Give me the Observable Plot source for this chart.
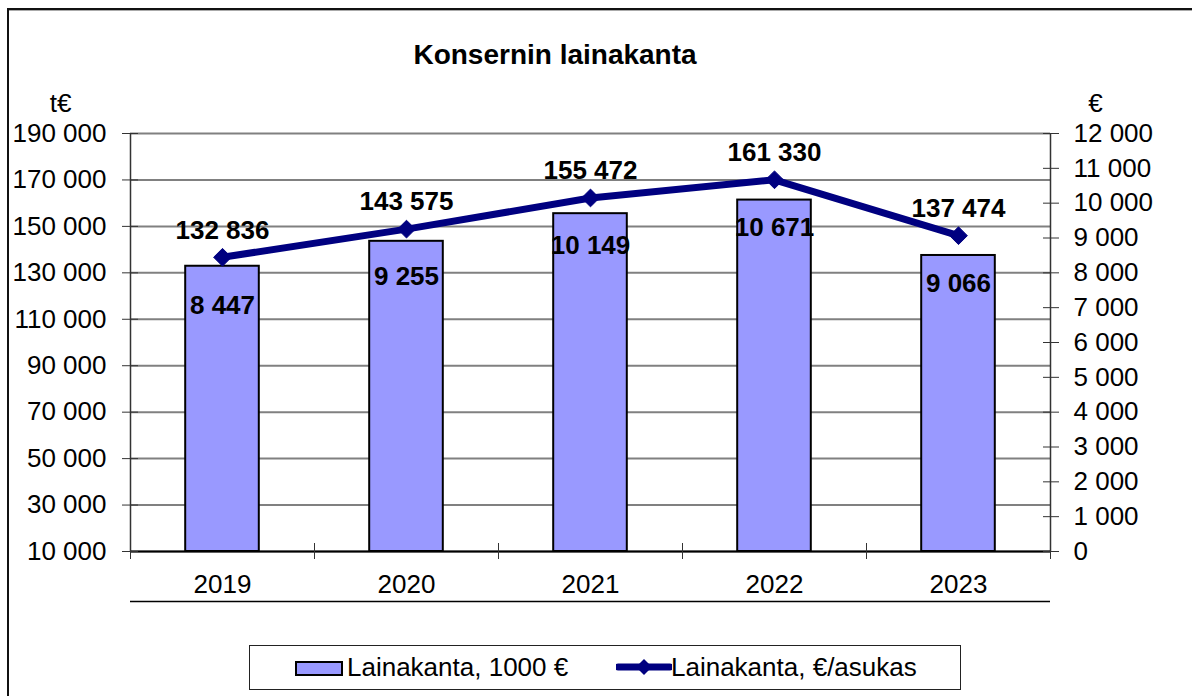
<!DOCTYPE html>
<html>
<head>
<meta charset="utf-8">
<script src="https://cdn.jsdelivr.net/npm/d3@7"></script>
<script src="https://cdn.jsdelivr.net/npm/@observablehq/plot@0.6"></script>
<style>
  html, body { margin: 0; padding: 0; background: #fff; }
  body { font-family: "Liberation Sans", Arial, sans-serif; color: #000; }
  #wrap { position: relative; width: 1192px; height: 696px; overflow: hidden; }
  #frame { position: absolute; left: 7px; top: 8px; width: 1200px; height: 700px; border-left: 2px solid #111; border-top: 2px solid #111; box-shadow: inset 0 1px 0 #aaa; }
  #title { position: absolute; left: 0; top: 41px; width: 1110px; text-align: center; font-size: 28px; line-height: 28px; font-weight: bold; }
  #chart { position: absolute; left: 0; top: 0; }
  #legend { position: absolute; left: 249px; top: 645px; width: 712px; height: 45px; border: 1.5px solid #222; box-sizing: border-box; background: #fff; }
  .lg-text { position: absolute; top: 0; line-height: 42px; font-size: 26px; white-space: nowrap; }
  .lg-sw { position: absolute; }
</style>
</head>
<body>
<div id="wrap">
  <div id="frame"></div>
  <div id="chart"></div>
  <div id="title"></div>
  <div id="legend"></div>
</div>
<script>
const title = "Konsernin lainakanta";
const years = ["2019", "2020", "2021", "2022", "2023"];
const loanStock = [132836, 143575, 155472, 161330, 137474];   // t€ (left axis)
const perResident = [8447, 9255, 10149, 10671, 9066];         // €/asukas (right axis)
const seriesNames = ["Lainakanta, 1000 €", "Lainakanta, €/asukas"];
const leftTicks = [10000, 30000, 50000, 70000, 90000, 110000, 130000, 150000, 170000, 190000];
const rightTicks = [0, 1000, 2000, 3000, 4000, 5000, 6000, 7000, 8000, 9000, 10000, 11000, 12000];
const leftUnit = "t€";
const rightUnit = "€";

const barColor = "#9999ff";
const lineColor = "#000080";

const fmt = v => d3.format(",")(v).replace(/,/g, " ");
// right axis 0..12000 maps onto left axis 10000..190000
const toLeft = v => 10000 + v * 15;
const fromLeft = v => Math.round((v - 10000) / 15);

const rows = years.map((year, i) => ({ i, year, loan: loanStock[i], per: perResident[i] }));
const boundaries = d3.range(years.length + 1).map(k => k - 0.5);

document.getElementById("title").textContent = title;

const chart = Plot.plot({
  width: 1192,
  height: 615,
  marginTop: 133,
  marginBottom: 64,
  marginLeft: 130,
  marginRight: 142,
  x: { domain: [-0.5, years.length - 0.5], axis: null, label: null },
  y: { domain: [leftTicks[0], leftTicks[leftTicks.length - 1]], axis: null, label: null },
  style: { fontFamily: "'Liberation Sans', Arial, sans-serif", fontSize: "26px", color: "#000", background: "transparent", overflow: "visible" },
  marks: [
    Plot.gridY(leftTicks, { stroke: "#808080", strokeOpacity: 1, strokeWidth: 2 }),
    Plot.rectY(rows, { x1: d => d.i - 0.2, x2: d => d.i + 0.2, y1: leftTicks[0], y2: "loan", fill: barColor, stroke: "#000", strokeWidth: 2 }),
    Plot.ruleX([-0.5, years.length - 0.5], { stroke: "#333", strokeWidth: 1.5 }),
    Plot.ruleY([leftTicks[0]], { stroke: "#000", strokeWidth: 2 }),
    Plot.ruleY([leftTicks[0]], { dy: 50, stroke: "#000", strokeWidth: 1.5 }),
    Plot.axisY(leftTicks, { anchor: "left", label: null, tickSize: 16, dx: 8, tickPadding: 16, tickFormat: fmt, fontSize: 26, stroke: "#333" }),
    Plot.axisY(rightTicks.map(toLeft), { anchor: "right", label: null, tickSize: 16, dx: -8, tickPadding: 15, tickFormat: d => fmt(fromLeft(d)), fontSize: 26, stroke: "#333" }),
    Plot.axisX(boundaries, { anchor: "bottom", label: null, tickSize: 16, dy: -8, tickFormat: () => "", stroke: "#333" }),
    Plot.axisX(rows.map(d => d.i), { anchor: "bottom", label: null, tickSize: 0, tickPadding: 23, tickFormat: i => years[i], fontSize: 26 }),
    Plot.line(rows, { x: "i", y: d => toLeft(d.per), stroke: lineColor, strokeWidth: 7 }),
    Plot.dot(rows, { x: "i", y: d => toLeft(d.per), symbol: "diamond2", r: 8, fill: lineColor, stroke: lineColor, strokeWidth: 1 }),
    Plot.text(rows, { x: "i", y: d => toLeft(d.per), text: d => fmt(d.loan), dy: -27, fontWeight: "bold", fontSize: 26 }),
    Plot.text(rows, { x: "i", y: d => toLeft(d.per), text: d => fmt(d.per), dy: 48, fontWeight: "bold", fontSize: 26 }),
    Plot.text([leftUnit], { frameAnchor: "top-left", textAnchor: "middle", text: d => d, dx: -70, dy: -40, fontSize: 26 }),
    Plot.text([rightUnit], { frameAnchor: "top-right", textAnchor: "middle", text: d => d, dx: 45, dy: -40, fontSize: 26 })
  ]
});
document.getElementById("chart").appendChild(chart);

// Legend
const legend = document.getElementById("legend");
const sw1 = document.createElement("div");
sw1.className = "lg-sw";
Object.assign(sw1.style, { left: "45px", top: "15px", width: "48px", height: "15px", background: barColor, border: "2px solid #000", boxSizing: "border-box" });
legend.appendChild(sw1);
const t1 = document.createElement("div");
t1.className = "lg-text"; t1.style.left = "97px"; t1.textContent = seriesNames[0];
legend.appendChild(t1);

const sw2 = document.createElementNS("http://www.w3.org/2000/svg", "svg");
sw2.setAttribute("width", "56"); sw2.setAttribute("height", "22");
sw2.setAttribute("class", "lg-sw");
sw2.style.left = "366px"; sw2.style.top = "10px";
sw2.innerHTML = `<line x1="2" y1="11" x2="54" y2="11" stroke="${lineColor}" stroke-width="7" stroke-linecap="round"/>` +
  `<path d="M28,3 L36,11 L28,19 L20,11 Z" fill="${lineColor}"/>`;
legend.appendChild(sw2);
const t2 = document.createElement("div");
t2.className = "lg-text"; t2.style.left = "421px"; t2.textContent = seriesNames[1];
legend.appendChild(t2);
</script>
</body>
</html>
